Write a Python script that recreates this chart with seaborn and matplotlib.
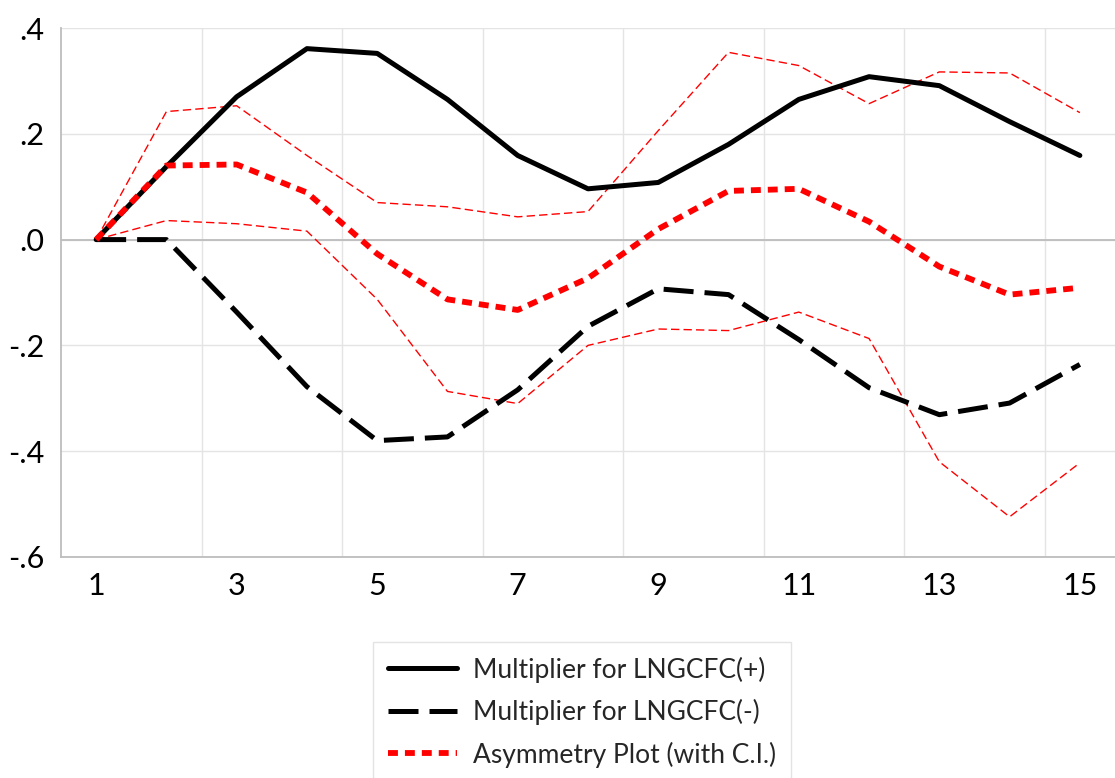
import matplotlib
matplotlib.use("Agg")
import matplotlib.pyplot as plt
import seaborn as sns
import pandas as pd

periods = list(range(1, 16))
mult_pos = [0.0, 0.138, 0.270, 0.361, 0.352, 0.265, 0.159, 0.096, 0.108, 0.180, 0.265, 0.308, 0.291, 0.223, 0.159]
mult_neg = [0.0, 0.0, -0.137, -0.278, -0.380, -0.373, -0.284, -0.164, -0.093, -0.104, -0.189, -0.280, -0.331, -0.309, -0.236]
asym = [0.0, 0.140, 0.142, 0.089, -0.027, -0.113, -0.133, -0.073, 0.020, 0.092, 0.096, 0.034, -0.051, -0.104, -0.091]
ci_upper = [0.0, 0.242, 0.253, 0.159, 0.070, 0.062, 0.043, 0.053, 0.206, 0.354, 0.329, 0.257, 0.317, 0.315, 0.240]
ci_lower = [0.0, 0.036, 0.030, 0.016, -0.113, -0.287, -0.310, -0.200, -0.169, -0.172, -0.137, -0.187, -0.420, -0.524, -0.422]

legend_labels = ["Multiplier for LNGCFC(+)", "Multiplier for LNGCFC(-)", "Asymmetry Plot (with C.I.)"]
y_ticks = [-0.6, -0.4, -0.2, 0.0, 0.2, 0.4]
y_tick_labels = ["-.6", "-.4", "-.2", ".0", ".2", ".4"]
x_ticks = [1, 3, 5, 7, 9, 11, 13, 15]

sns.set_theme(style="white")
plt.rcParams["font.family"] = ["Lato", "DejaVu Sans"]

df = pd.DataFrame({"period": periods, "pos": mult_pos, "neg": mult_neg,
                   "asym": asym, "up": ci_upper, "lo": ci_lower})

fig = plt.figure(figsize=(11.15, 7.78), dpi=100)
ax = fig.add_axes([61 / 1115, 1 - 557 / 778, 1 - 61 / 1115, (557 - 28) / 778])

# grid
for gx in [2.5, 4.5, 6.5, 8.5, 10.5, 12.5, 14.5]:
    ax.axvline(gx, color="#e4e4e4", lw=1.0, zorder=0)
for gy in y_ticks:
    ax.axhline(gy, color="#e4e4e4", lw=1.0, zorder=0)
ax.axhline(0, color="#bdbdbd", lw=1.3, zorder=1)

sns.lineplot(data=df, x="period", y="up", ax=ax, color="red", linewidth=1.0,
             linestyle=(0, (6, 3)), zorder=3)
sns.lineplot(data=df, x="period", y="lo", ax=ax, color="red", linewidth=1.0,
             linestyle=(0, (6, 3)), zorder=3)
sns.lineplot(data=df, x="period", y="pos", ax=ax, color="black", linewidth=3.6,
             label=legend_labels[0], zorder=4)
sns.lineplot(data=df, x="period", y="neg", ax=ax, color="black", linewidth=3.6,
             linestyle=(0, (6, 2.2)), label=legend_labels[1], zorder=4)
sns.lineplot(data=df, x="period", y="asym", ax=ax, color="red", linewidth=4.2,
             linestyle=(0, (1.7, 1.2)), label=legend_labels[2], zorder=5)

ax.set_xlim(0.5, 15.5)
ax.set_ylim(-0.6, 0.4)
ax.set_xticks(x_ticks)
ax.set_xticklabels([str(v) for v in x_ticks])
ax.set_yticks(y_ticks)
ax.set_yticklabels(y_tick_labels)
ax.tick_params(axis="both", labelsize=22, length=0, colors="black")
ax.tick_params(axis="x", pad=11)
ax.tick_params(axis="y", pad=12)
ax.set_xlabel("")
ax.set_ylabel("")
for s in ["top", "right"]:
    ax.spines[s].set_visible(False)
for s in ["left", "bottom"]:
    ax.spines[s].set_color("#bdbdbd")
    ax.spines[s].set_linewidth(1.3)

leg = ax.legend(loc="upper left", bbox_to_anchor=(373 / 1115, 1 - 642 / 778),
                bbox_transform=fig.transFigure, frameon=True, fontsize=19,
                handlelength=2.65, handletextpad=0.6, labelspacing=0.62,
                borderpad=0.55, borderaxespad=0, fancybox=False)
leg.get_frame().set_edgecolor("#dddddd")
leg.get_frame().set_linewidth(1.0)

fig.savefig("out.png", dpi=100)
